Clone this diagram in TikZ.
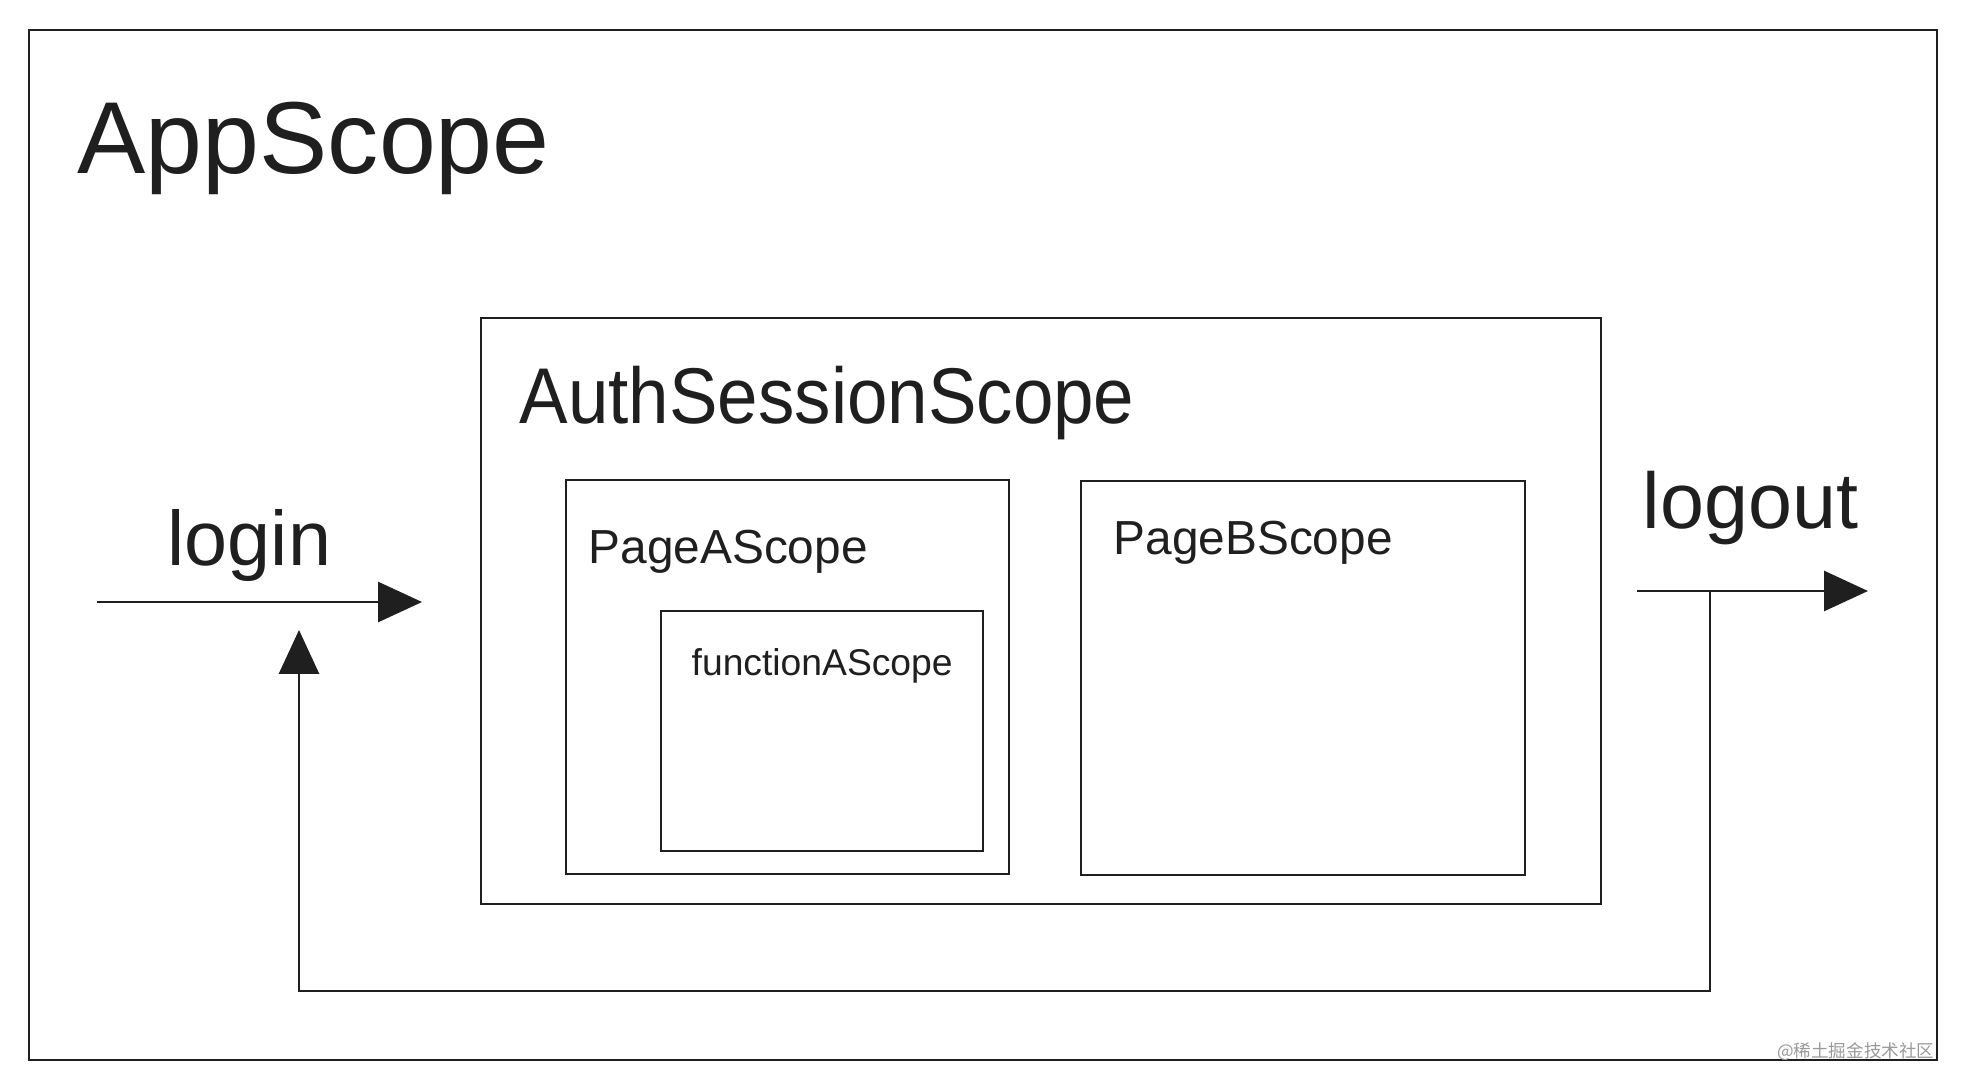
\documentclass[tikz,border=0pt]{standalone}
\usepackage{fontspec}
\setmainfont{Liberation Sans}
\newfontfamily\condfont[FakeStretch=0.92]{Liberation Sans}
\newfontfamily\cjkfont{Noto Sans CJK SC}
\usetikzlibrary{arrows.meta}
\colorlet{inkline}{black!88}
\tikzset{
  scopebox/.style={draw=inkline,line width=0.75pt},
  flowline/.style={draw=inkline,line width=0.7pt,-{Triangle[length=12.5pt,width=11.4pt]}},
  scopelabel/.style={anchor=base west,inner sep=0pt,text=inkline},
}
\newcommand{\fsz}[1]{\fontsize{#1}{#1}\selectfont}

\begin{document}
\begin{tikzpicture}[x=0.1mm,y=-0.1mm]
\useasboundingbox (0,0) rectangle (1966,1090);
% nested scopes
\draw[scopebox] (29,30) rectangle (1937,1060);
\draw[scopebox] (481,318) rectangle (1601,904);
\draw[scopebox] (566,480) rectangle (1009,874);
\draw[scopebox] (661,611) rectangle (983,851);
\draw[scopebox] (1081,481) rectangle (1525,875);
\node[scopelabel,font=\fsz{29.1}] (app) at (77,173) {AppScope};
\node[scopelabel,font=\condfont\fsz{22.5}] (auth) at (519,423) {AuthSessionScope};
\node[scopelabel,font=\fsz{13.6}] (pagea) at (588,563) {PageAScope};
\node[scopelabel,font=\fsz{13.6}] (pageb) at (1113,554) {PageBScope};
\node[scopelabel,font=\fsz{10.6}] (funca) at (691,675) {functionAScope};
% login / logout
\node[scopelabel,font=\fsz{22}] (login) at (167,565) {login};
\node[scopelabel,font=\fsz{22.5}] (logout) at (1642,528) {logout};
\coordinate (loginstart) at (97,602);
\coordinate (loginend) at (422,602);
\coordinate (logoutstart) at (1637,591);
\coordinate (logoutend) at (1868,591);
\coordinate (backfrom) at (1710,591);
\coordinate (backtip) at (299,630);
\draw[flowline] (loginstart) -- (loginend);
\draw[flowline] (logoutstart) -- (logoutend);
\draw[flowline] (backfrom) -- (1710,991) -| (backtip);
\node[anchor=base east,inner sep=0pt,font=\cjkfont\fsz{5},text=black!40] (mark) at (1935,1057) {@稀土掘金技术社区};
\end{tikzpicture}
\end{document}
